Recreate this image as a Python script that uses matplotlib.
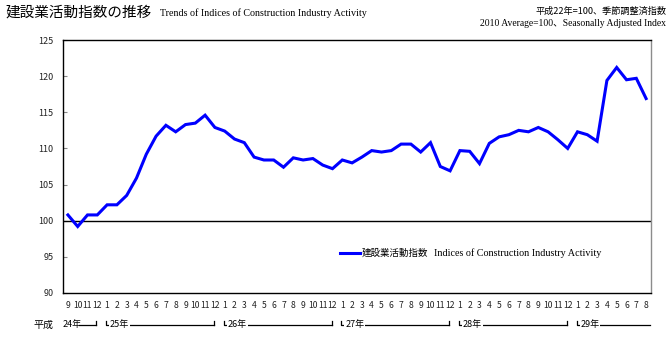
import matplotlib
matplotlib.use("Agg")
import matplotlib.pyplot as plt

# Monthly index, Heisei 24.9 (Sep 2012) to Heisei 29.8 (Aug 2017)
months = ["9", "10", "11", "12"] + [str(m) for m in range(1, 13)] * 4 + [str(m) for m in range(1, 9)]
values = [
    100.8, 99.2, 100.8, 100.8,
    102.2, 102.2, 103.5, 105.9, 109.2, 111.7, 113.2, 112.3, 113.3, 113.5, 114.6, 112.9,
    112.4, 111.3, 110.8, 108.8, 108.4, 108.4, 107.4, 108.7, 108.4, 108.6, 107.7, 107.2,
    108.4, 108.0, 108.8, 109.7, 109.5, 109.7, 110.6, 110.6, 109.5, 110.8, 107.5, 106.9,
    109.7, 109.6, 107.9, 110.7, 111.6, 111.9, 112.5, 112.3, 112.9, 112.3, 111.2, 110.0,
    112.3, 111.9, 111.0, 119.4, 121.2, 119.5, 119.7, 116.9,
]
year_labels = ["24年", "25年", "26年", "27年", "28年", "29年"]
year_starts = [0, 4, 16, 28, 40, 52]
yticks = [90, 95, 100, 105, 110, 115, 120, 125]

JP = ["Noto Sans CJK JP", "DejaVu Sans"]
SERIF = ["Liberation Serif", "DejaVu Serif"]
BLUE = "#0000ff"

W, H = 670, 339
fig = plt.figure(figsize=(W / 100, H / 100), dpi=100)
ax = fig.add_axes([63 / W, (H - 293) / H, (651 - 63) / W, (293 - 40) / H])

x = list(range(len(values)))
ax.plot(x, values, color=BLUE, lw=2.2, solid_joinstyle="miter", zorder=3)
ax.axhline(100, color="black", lw=1.0, zorder=2)

ax.set_xlim(-0.5, len(values) - 0.5)
ax.set_ylim(90, 125)
ax.set_yticks(yticks)
ax.set_yticklabels([str(v) for v in yticks], fontsize=6.5, family=JP, color="#222222")
ax.tick_params(axis="y", direction="in", length=3, width=0.8, color="#888888", pad=7)
ax.set_xticks(x)
ax.set_xticklabels(months, fontsize=6.2, family=JP, color="#222222")
ax.tick_params(axis="x", length=0, pad=6)
for lbl in ax.get_xticklabels():
    lbl.set_horizontalalignment("center")

for side in ("left", "bottom", "top"):
    ax.spines[side].set_color("black")
    ax.spines[side].set_linewidth(1.0)
ax.spines["right"].set_color("#8c8c8c")
ax.spines["right"].set_linewidth(1.0)

# Year brackets under the month labels
tr = ax.get_xaxis_transform()
yb = -0.1265   # bracket baseline (axes fraction)
yt = yb + 0.016  # bracket tick top
n = len(values)
for i, (lab, s) in enumerate(zip(year_labels, year_starts)):
    end = year_starts[i + 1] - 1.1 if i + 1 < len(year_starts) else n - 0.6
    if i == 0:
        start = -0.5
        ax.plot([start + 1.6, end], [yb, yb], color="black", lw=0.9, transform=tr, clip_on=False)
        ax.text(start, yb + 0.003, lab, fontsize=6.5, family=JP, ha="left", va="center",
                transform=tr, clip_on=False)
    else:
        start = s - 0.1
        ax.plot([start, start, end], [yt, yb, yb], color="black", lw=0.9, transform=tr,
                clip_on=False)
        ax.text(start + 0.4, yb + 0.003, lab, fontsize=6.5, family=JP, ha="left", va="center",
                transform=tr, clip_on=False, zorder=5,
                bbox=dict(facecolor="white", edgecolor="none", pad=0.6))
    if i + 1 < len(year_starts):
        ax.plot([end, end], [yb, yt], color="black", lw=0.9, transform=tr, clip_on=False)

fig.text(33 / W, 1 - 325 / H, "平成", fontsize=7.2, family=JP, ha="left", va="center")

# Titles and notes
fig.text(5 / W, 1 - 13 / H, "建設業活動指数の推移", fontsize=10.5, family=JP,
         ha="left", va="center")
fig.text(160 / W, 1 - 13 / H, "Trends of Indices of Construction Industry Activity",
         fontsize=7.2, family=SERIF, ha="left", va="center")
fig.text(666 / W, 1 - 11 / H, "平成22年=100、季節調整済指数", fontsize=6.6, family=JP,
         ha="right", va="center")
fig.text(666 / W, 1 - 24 / H, "2010 Average=100、Seasonally Adjusted Index",
         fontsize=6.9, family=SERIF + JP, ha="right", va="center")

# Legend
ly = 1 - 253 / H
fig.add_artist(plt.Line2D([340 / W, 360 / W], [ly, ly], color=BLUE, lw=2.2,
                          transform=fig.transFigure))
fig.text(362 / W, ly, "建設業活動指数", fontsize=6.8, family=JP, ha="left", va="center")
fig.text(434 / W, ly, "Indices of Construction Industry Activity", fontsize=7.3,
         family=SERIF, ha="left", va="center")

fig.savefig("out.png", dpi=100)
